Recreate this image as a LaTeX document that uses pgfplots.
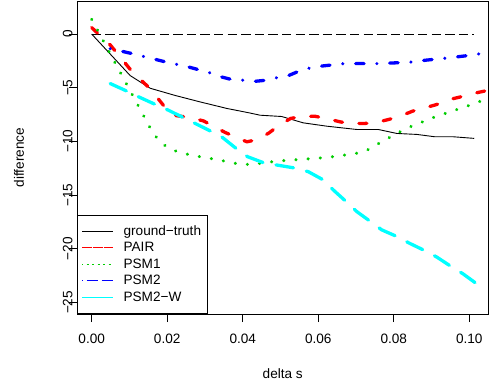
\documentclass[border=0pt]{standalone}
\usepackage{pgfplots}
\pgfplotsset{compat=1.18}
\usepackage{fontspec}
\setmainfont{Liberation Sans}
\definecolor{rred}{RGB}{255,0,0}
\definecolor{rgreen}{RGB}{0,205,0}
\definecolor{rblue}{RGB}{0,0,255}
\definecolor{rcyan}{RGB}{0,255,255}
\newcommand{\rf}{\fontsize{13.6bp}{16bp}\selectfont}
\begin{document}
\rf
\begin{tikzpicture}
\begin{axis}[
  at={(0,0)}, anchor=south west,
  scale only axis, width=411.5bp, height=313bp,
  xmin=-0.00389, xmax=0.10508, ymin=-26.08, ymax=3.08,
  axis line style={line width=0.8bp},
  xtick={0,0.02,0.04,0.06,0.08,0.1},
  xticklabels={0.00,0.02,0.04,0.06,0.08,0.10},
  ytick={-25,-20,-15,-10,-5,0},
  yticklabels={−25,−20,−15,−10,−5,0},
  tick align=outside, xtick pos=bottom, ytick pos=left,
  major tick length=8bp,
  every tick/.style={black, line width=0.8bp},
  tick label style={font=\rf},
  xticklabel style={anchor=north, inner sep=0pt},
  yticklabel style={xshift=3.5bp, rotate=90, anchor=base, inner sep=0pt},
  xticklabel shift=12bp,
  xlabel={delta s}, ylabel={difference},
  label style={font=\rf, inner sep=0pt},
  xlabel style={at={(axis description cs:0.5,-0.2045)}, anchor=base},
  ylabel style={at={(axis description cs:-0.1288,0.5)}, anchor=base},
  legend style={at={(0,0)}, anchor=south west, draw=black, line width=0.8bp,
    inner xsep=4.2bp, inner ysep=8bp, row sep=0pt, column sep=8.4bp, font=\rf,
    nodes={inner sep=2bp, text height=9.9bp, text depth=2.6bp}},
  legend cell align=left,
  legend image code/.code={\path (-4.7bp,0bp) -- (26bp,0bp); \draw[#1] (0bp,0bp) -- (26bp,0bp);},
]
\addplot[black, line width=0.9bp, forget plot] coordinates {
(0,0) (0.0102,-3.87) (0.0155,-5.05) (0.0221,-5.72) (0.0287,-6.32) (0.0358,-6.93)
(0.0417,-7.34) (0.0446,-7.56) (0.0503,-7.68) (0.056,-8.27) (0.0622,-8.58)
(0.0702,-8.89) (0.0759,-8.89) (0.0808,-9.26) (0.0861,-9.35) (0.0909,-9.57)
(0.0958,-9.57) (0.1013,-9.72)};
\addplot[black, line width=0.9bp, dash pattern=on 9.3bp off 4.3bp, forget plot] coordinates {
(0,0) (0.1013,0)};
\addplot[rred, line width=3.3bp, line cap=round, line join=round, dash pattern=on 8bp off 16.5bp, forget plot] coordinates {
(0,0.6) (0.005,-1.05) (0.0107,-3.5) (0.0155,-5.1) (0.0205,-7.3) (0.0216,-7.56) (0.0258,-7.77)
(0.0296,-8.09) (0.0353,-9.16) (0.0411,-10.04) (0.0441,-9.81) (0.047,-9.2)
(0.0497,-8.48) (0.0527,-7.86) (0.0552,-7.71) (0.059,-7.65) (0.0621,-7.86)
(0.0658,-8.18) (0.0684,-8.33) (0.0721,-8.33) (0.075,-8.27) (0.0786,-7.96)
(0.0812,-7.71) (0.085,-7.18) (0.0877,-6.93) (0.0914,-6.56) (0.094,-6.16)
(0.0976,-5.86) (0.1002,-5.6) (0.1042,-5.3) (0.108,-5.0)};
\addplot[rgreen, line width=3.3bp, line cap=round, line join=round, dash pattern=on 0.1bp off 12.1bp, forget plot] coordinates {
(0,1.37) (0.0157,-8.88) (0.0176,-9.85) (0.02,-10.56) (0.0231,-11.02) (0.0263,-11.27)
(0.0296,-11.49) (0.0328,-11.67) (0.0361,-11.9) (0.0393,-12.14) (0.0426,-12.14)
(0.0492,-11.83) (0.0558,-11.67) (0.0624,-11.49) (0.069,-11.18) (0.0722,-10.97)
(0.0751,-10.37) (0.078,-9.81) (0.0808,-9.26) (0.0839,-8.7) (0.087,-8.27)
(0.09,-7.83) (0.0931,-7.46) (0.0962,-7.09) (0.0994,-6.72) (0.1024,-6.32) (0.107,-5.8)};
\addplot[rblue, line width=3.3bp, line cap=round, line join=round, dash pattern=on 0.1bp off 12.8bp on 8.4bp off 12.8bp, forget plot] coordinates {
(0.0049,-1.36) (0.0107,-1.82) (0.0195,-2.59) (0.0257,-3.07) (0.0314,-3.62)
(0.0344,-4.0) (0.0371,-4.24) (0.0402,-4.3) (0.0433,-4.4) (0.0462,-4.3)
(0.0492,-4.05) (0.0523,-3.84) (0.055,-3.44) (0.0578,-3.16) (0.0612,-2.97)
(0.0669,-2.75) (0.0759,-2.75) (0.0819,-2.66) (0.085,-2.6) (0.0883,-2.44)
(0.0942,-2.23) (0.1002,-1.98) (0.1031,-1.82)};
\addplot[rcyan, line width=3.3bp, line cap=round, line join=round, dash pattern=on 17.7bp off 13.3bp, forget plot] coordinates {
(0.0049,-4.61) (0.0094,-5.33) (0.0125,-5.86) (0.0173,-6.63) (0.0203,-7.09)
(0.0247,-7.86) (0.0274,-8.33) (0.0319,-9.11) (0.0344,-9.57) (0.0388,-10.81)
(0.0413,-11.43) (0.0459,-12.04) (0.049,-12.2) (0.0543,-12.51) (0.0574,-12.83)
(0.0614,-13.6) (0.064,-14.53) (0.0677,-15.71) (0.0702,-16.54) (0.0742,-17.56)
(0.0768,-18.24) (0.0812,-18.92) (0.0841,-19.48) (0.0887,-20.26) (0.0914,-20.78)
(0.0956,-21.75) (0.0983,-22.33) (0.1015,-23.15)};
\addlegendimage{black, line width=0.9bp}
\addlegendimage{rred, line width=0.9bp, dash pattern=on 5.4bp off 5.4bp}
\addlegendimage{rgreen, line width=0.9bp, dash pattern=on 1.36bp off 4.1bp}
\addlegendimage{rblue, line width=0.9bp, dash pattern=on 1.36bp off 4.1bp on 5.4bp off 4.1bp}
\addlegendimage{rcyan, line width=0.9bp, dash pattern=on 9.5bp off 4.1bp}
\legend{ground−truth, PAIR, PSM1, PSM2, PSM2−W}
\end{axis}
\pgfresetboundingbox
\path[use as bounding box] (-77bp,-69bp) rectangle (412bp,314bp);
\end{tikzpicture}
\end{document}
